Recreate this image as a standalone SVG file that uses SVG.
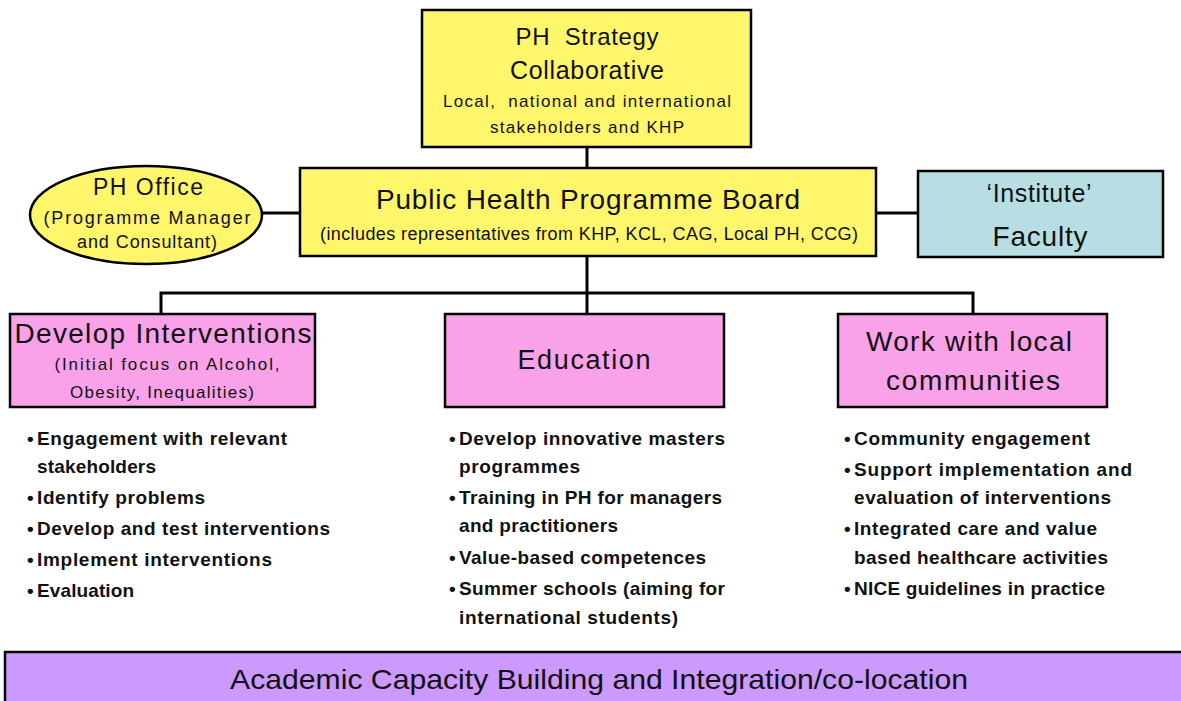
<svg xmlns="http://www.w3.org/2000/svg" width="1181" height="701" viewBox="0 0 1181 701">
<style>
.box{stroke:#000;stroke-width:2.5}
.yel{fill:#FFF66B}
.pink{fill:#F9A1E9}
.cyan{fill:#B7DEE3}
.purp{fill:#CC99FF}
.t{font-family:"Liberation Sans",Arial,sans-serif;fill:#111;text-anchor:middle;white-space:pre}
.b{font-family:"Liberation Sans",Arial,sans-serif;font-weight:bold;fill:#111;font-size:19px}
.conn{stroke:#000;stroke-width:3;fill:none}
</style>
<rect width="1181" height="701" fill="#fff"/>
<g id="connectors">
<path class="conn" d="M587 147V168"/>
<path class="conn" d="M262 213H300"/>
<path class="conn" d="M876 213H918"/>
<path class="conn" d="M587 256V293"/>
<path class="conn" d="M161 314V293H973V314"/>
<path class="conn" d="M587 293V314"/>
</g>
<g id="strategy">
<rect class="box yel" x="422" y="10" width="329" height="137"/>
<text class="t" x="587" y="45" font-size="24" textLength="143">PH  Strategy</text>
<text class="t" x="587" y="79" font-size="25" textLength="154">Collaborative</text>
<text class="t" x="587" y="107" font-size="17" textLength="288">Local,  national and international</text>
<text class="t" x="587" y="133" font-size="17" textLength="194">stakeholders and KHP</text>
</g>
<g id="office">
<ellipse class="box yel" cx="146" cy="215" rx="116" ry="49"/>
<text class="t" x="148" y="195" font-size="23" textLength="110">PH Office</text>
<text class="t" x="147" y="224" font-size="18" textLength="207">(Programme Manager</text>
<text class="t" x="147" y="248" font-size="18" textLength="140">and Consultant)</text>
</g>
<g id="board">
<rect class="box yel" x="300" y="168" width="576" height="88"/>
<text class="t" x="588" y="209" font-size="28" textLength="424">Public Health Programme Board</text>
<text class="t" x="589" y="240" font-size="18" textLength="538">(includes representatives from KHP, KCL, CAG, Local PH, CCG)</text>
</g>
<g id="institute">
<rect class="box cyan" x="918" y="171" width="245" height="86"/>
<text class="t" x="1039" y="202" font-size="25" textLength="105">‘Institute’</text>
<text class="t" x="1040" y="246" font-size="28" textLength="95">Faculty</text>
</g>
<g id="develop">
<rect class="box pink" x="10" y="314" width="305" height="93"/>
<text class="t" x="163" y="343" font-size="28" textLength="297">Develop Interventions</text>
<text class="t" x="167" y="370" font-size="17" textLength="225">(Initial focus on Alcohol,</text>
<text class="t" x="162" y="398" font-size="17" textLength="184">Obesity, Inequalities)</text>
</g>
<g id="education">
<rect class="box pink" x="445" y="314" width="279" height="93"/>
<text class="t" x="584" y="369" font-size="27" textLength="133">Education</text>
</g>
<g id="communities">
<rect class="box pink" x="838" y="314" width="269" height="93"/>
<text class="t" x="969" y="351" font-size="28" textLength="206">Work with local</text>
<text class="t" x="973" y="390" font-size="28" textLength="174">communities</text>
</g>
<g id="develop-list">
<text class="b" x="27" y="445">•</text><text class="b" x="37" y="445" textLength="250">Engagement with relevant</text>
<text class="b" x="37" y="473" textLength="119">stakeholders</text>
<text class="b" x="27" y="504">•</text><text class="b" x="37" y="504" textLength="168">Identify problems</text>
<text class="b" x="27" y="535">•</text><text class="b" x="37" y="535" textLength="293">Develop and test interventions</text>
<text class="b" x="27" y="566">•</text><text class="b" x="37" y="566" textLength="235">Implement interventions</text>
<text class="b" x="27" y="597">•</text><text class="b" x="37" y="597" textLength="97">Evaluation</text>
</g>
<g id="education-list">
<text class="b" x="449" y="445">•</text><text class="b" x="459" y="445" textLength="266">Develop innovative masters</text>
<text class="b" x="459" y="473" textLength="121">programmes</text>
<text class="b" x="449" y="504">•</text><text class="b" x="459" y="504" textLength="263">Training in PH for managers</text>
<text class="b" x="459" y="532" textLength="159">and practitioners</text>
<text class="b" x="449" y="564">•</text><text class="b" x="459" y="564" textLength="247">Value-based competences</text>
<text class="b" x="449" y="595">•</text><text class="b" x="459" y="595" textLength="266">Summer schools (aiming for</text>
<text class="b" x="459" y="624" textLength="219">international students)</text>
</g>
<g id="communities-list">
<text class="b" x="844" y="445">•</text><text class="b" x="854" y="445" textLength="236">Community engagement</text>
<text class="b" x="844" y="476">•</text><text class="b" x="854" y="476" textLength="278">Support implementation and</text>
<text class="b" x="854" y="504" textLength="257">evaluation of interventions</text>
<text class="b" x="844" y="535">•</text><text class="b" x="854" y="535" textLength="243">Integrated care and value</text>
<text class="b" x="854" y="564" textLength="254">based healthcare activities</text>
<text class="b" x="844" y="595">•</text><text class="b" x="854" y="595" textLength="251">NICE guidelines in practice</text>
</g>
<g id="academic">
<rect class="box purp" x="5" y="652" width="1180" height="52"/>
<text class="t" x="599" y="689" font-size="28" textLength="738" lengthAdjust="spacingAndGlyphs">Academic Capacity Building and Integration/co-location</text>
</g>
</svg>
